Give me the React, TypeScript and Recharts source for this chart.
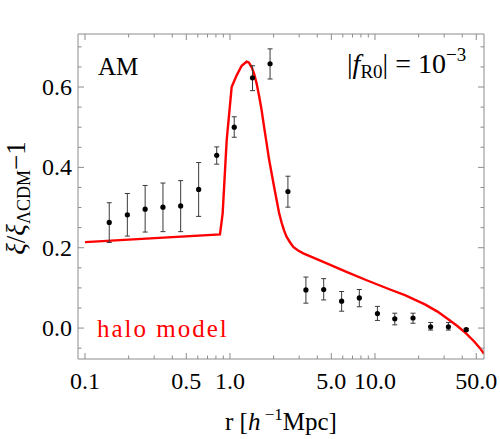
import React from "react";
import { ComposedChart, Line, Scatter, ErrorBar, XAxis, YAxis } from "recharts";

// halo model curve
const curveR = [
  0.1, 0.853, 0.89, 0.949, 1.027, 1.112, 1.204, 1.303, 1.35, 1.412, 1.47, 1.528, 1.59, 1.654, 1.72,
  1.791, 1.86, 1.94, 2.02, 2.099, 2.18, 2.273, 2.36, 2.46, 2.6, 2.733, 2.95, 3.204, 4.4, 6.36, 8.76,
  12.7, 16.1, 22.1, 27, 32, 37, 42.5, 48.5, 53, 56.5,
];
const curveXi = [
  0.214, 0.233, 0.285, 0.467, 0.6, 0.629, 0.653, 0.663, 0.661, 0.649, 0.632, 0.608, 0.577, 0.542, 0.5,
  0.459, 0.42, 0.384, 0.35, 0.318, 0.287, 0.262, 0.243, 0.227, 0.213, 0.202, 0.193, 0.186, 0.165, 0.14,
  0.119, 0.096, 0.082, 0.059, 0.041, 0.022, 0.005, -0.013, -0.034, -0.05, -0.064,
];

// AM measurements with error bars
const pointR = [
  0.147, 0.196, 0.26, 0.345, 0.457, 0.608, 0.81, 1.07, 1.43, 1.89, 2.51, 3.34, 4.43, 5.89, 7.8, 10.4,
  13.7, 18.3, 24.2, 32.1, 42.6,
];
const pointXi = [
  0.263, 0.282, 0.296, 0.301, 0.304, 0.345, 0.43, 0.5, 0.623, 0.658, 0.34, 0.095, 0.096, 0.067, 0.075,
  0.036, 0.023, 0.025, 0.003, 0.003, -0.004,
];
const errHigh = [
  0.312, 0.335, 0.355, 0.361, 0.367, 0.412, 0.451, 0.526, 0.653, 0.695, 0.378, 0.127, 0.123, 0.091,
  0.096, 0.054, 0.037, 0.037, 0.014, 0.014, -0.001,
];
const errLow = [
  0.213, 0.229, 0.239, 0.24, 0.24, 0.278, 0.408, 0.475, 0.591, 0.62, 0.301, 0.062, 0.07, 0.042, 0.053,
  0.019, 0.008, 0.012, -0.005, -0.005, -0.007,
];

const xMajor = [0.1, 0.5, 1, 5, 10, 50];
const xMajorLabels = ["0.1", "0.5", "1.0", "5.0", "10.0", "50.0"];
const xMinor = [0.2, 0.3, 0.4, 0.6, 0.7, 0.8, 0.9, 2, 3, 4, 6, 7, 8, 9, 20, 30, 40];
const yMajor = [0, 0.2, 0.4, 0.6];
const yMajorLabels = ["0.0", "0.2", "0.4", "0.6"];
const yMinor = [-0.05, 0.05, 0.1, 0.15, 0.25, 0.3, 0.35, 0.45, 0.5, 0.55, 0.65, 0.7];

const xTicks = [...xMajor, ...xMinor].sort((a, b) => a - b);
const yTicks = [...yMajor, ...yMinor].sort((a, b) => a - b);

const curve = curveR.map((r, i) => ({ r, xi: curveXi[i] }));
const points = pointR.map((r, i) => ({
  r,
  xi: pointXi[i],
  err: [pointXi[i] - errLow[i], errHigh[i] - pointXi[i]],
}));

const FONT = "'Liberation Serif', 'DejaVu Serif', serif";
const FRAME = "#8c8c8c";
const MAJOR = 6;
const MINOR = 3.5;

function tickLen(v: number, major: number[]) {
  return major.includes(v) ? MAJOR : MINOR;
}

const BottomTick = ({ x, y, payload }: any) => {
  const v = payload.value;
  const idx = xMajor.indexOf(v);
  return (
    <g>
      <line x1={x} y1={y} x2={x} y2={y - tickLen(v, xMajor)} stroke={FRAME} />
      {idx >= 0 && (
        <text x={x} y={y + 30} textAnchor="middle" fontFamily={FONT} fontSize={24} fill="#000">
          {xMajorLabels[idx]}
        </text>
      )}
    </g>
  );
};

const TopTick = ({ x, y, payload }: any) => (
  <line x1={x} y1={y} x2={x} y2={y + tickLen(payload.value, xMajor)} stroke={FRAME} />
);

const LeftTick = ({ x, y, payload }: any) => {
  const v = payload.value;
  const idx = yMajor.indexOf(v);
  return (
    <g>
      <line x1={x} y1={y} x2={x + tickLen(v, yMajor)} y2={y} stroke={FRAME} />
      {idx >= 0 && (
        <text x={x - 6} y={y + 8} textAnchor="end" fontFamily={FONT} fontSize={24} fill="#000">
          {yMajorLabels[idx]}
        </text>
      )}
    </g>
  );
};

const RightTick = ({ x, y, payload }: any) => (
  <line x1={x} y1={y} x2={x - tickLen(payload.value, yMajor)} y2={y} stroke={FRAME} />
);

const Dot = (p: any) => <circle cx={p.cx} cy={p.cy} r={2.6} fill="#000" />;

export default function App() {
  const xDomain = [0.0895, 56.5];
  const yDomain = [-0.077, 0.732];
  return (
    <div style={{ position: "absolute", left: 0, top: 0, width: 500, height: 439, background: "#fff" }}>
      <ComposedChart width={500} height={439} margin={{ top: 33, right: 15, bottom: 0, left: 18 }}>
        <XAxis
          xAxisId="bottom"
          dataKey="r"
          type="number"
          scale="log"
          domain={xDomain}
          allowDataOverflow
          ticks={xTicks}
          interval={0}
          height={80}
          tickSize={0}
          tickMargin={0}
          axisLine={{ stroke: FRAME }}
          tick={BottomTick}
        />
        <XAxis
          xAxisId="top"
          orientation="top"
          dataKey="r"
          type="number"
          scale="log"
          domain={xDomain}
          allowDataOverflow
          ticks={xTicks}
          interval={0}
          height={1}
          tickSize={0}
          tickMargin={0}
          axisLine={{ stroke: FRAME }}
          tick={TopTick}
        />
        <YAxis
          yAxisId="left"
          type="number"
          domain={yDomain}
          allowDataOverflow
          ticks={yTicks}
          interval={0}
          width={60}
          tickSize={0}
          tickMargin={0}
          axisLine={{ stroke: FRAME }}
          tick={LeftTick}
        />
        <YAxis
          yAxisId="right"
          orientation="right"
          type="number"
          domain={yDomain}
          allowDataOverflow
          ticks={yTicks}
          interval={0}
          width={1}
          tickSize={0}
          tickMargin={0}
          axisLine={{ stroke: FRAME }}
          tick={RightTick}
        />
        <Line
          xAxisId="top"
          yAxisId="right"
          data={curve}
          dataKey="xi"
          stroke="none"
          dot={false}
          isAnimationActive={false}
        />
        <Line
          xAxisId="bottom"
          yAxisId="left"
          data={curve}
          dataKey="xi"
          type="linear"
          stroke="#ff0000"
          strokeWidth={2.4}
          dot={false}
          isAnimationActive={false}
        />
        <Scatter
          xAxisId="bottom"
          yAxisId="left"
          data={points}
          dataKey="xi"
          shape={Dot}
          isAnimationActive={false}
        >
          <ErrorBar dataKey="err" direction="y" width={2.5} stroke="#3a3a3a" strokeWidth={1} />
        </Scatter>
      </ComposedChart>
      <svg
        width={500}
        height={439}
        style={{ position: "absolute", left: 0, top: 0, pointerEvents: "none" }}
        fontFamily={FONT}
      >
        <text x={98} y={75} fontSize={25} fill="#000">AM</text>
        <text x={347} y={73} fontSize={28} fill="#000">
          |<tspan fontStyle="italic">f</tspan>
          <tspan fontSize={19} dy={5}>R0</tspan>
          <tspan dy={-5}>| = 10</tspan>
          <tspan fontSize={19} dy={-12}>−3</tspan>
        </text>
        <text x={97} y={337} fontSize={25} fill="#ff0000" letterSpacing={2}>halo model</text>
        <text x={281} y={430} fontSize={25} textAnchor="middle" fill="#000">
          r [<tspan fontStyle="italic">h</tspan>
          <tspan fontSize={17} dy={-10}> −1</tspan>
          <tspan dy={10}>Mpc]</tspan>
        </text>
        <text transform="translate(25,198) rotate(-90)" fontSize={27} textAnchor="middle" fill="#000">
          <tspan fontStyle="italic">ξ</tspan>/<tspan fontStyle="italic">ξ</tspan>
          <tspan fontSize={18} dy={5}>ΛCDM</tspan>
          <tspan dy={-5}>−1</tspan>
        </text>
      </svg>
    </div>
  );
}
